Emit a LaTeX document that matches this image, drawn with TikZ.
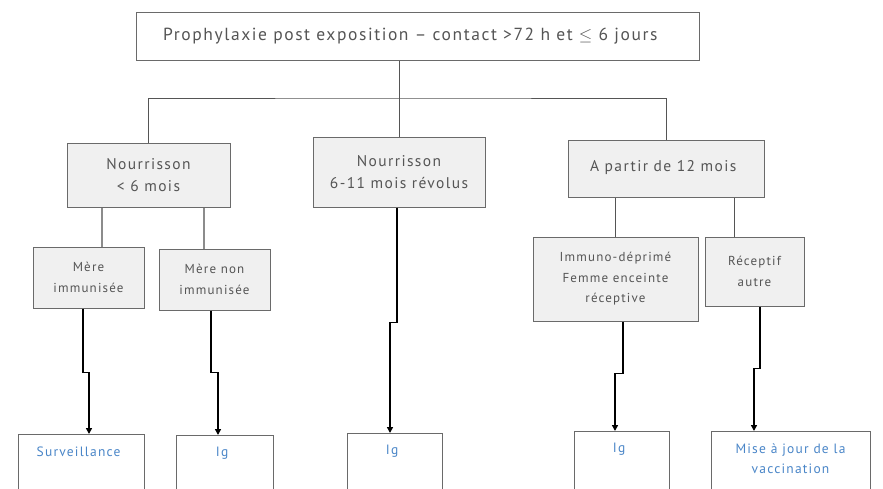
\documentclass[tikz,border=0pt]{standalone}
\usepackage{fontspec}
\setmainfont{PT Sans}[LetterSpace=9]
\usetikzlibrary{arrows.meta}

\definecolor{boxline}{HTML}{6A6A6A}
\definecolor{boxfill}{HTML}{F0F0F0}
\definecolor{txtgray}{HTML}{555555}
\definecolor{outblue}{HTML}{4A86C8}

\begin{document}
\begin{tikzpicture}[x=1pt,y=-1pt,
        every node/.style={font=\fontsize{15.5}{22}\selectfont, text=txtgray, align=center},
        topbox/.style={draw=boxline, line width=1pt, fill=white, minimum width=563pt, minimum height=48pt},
        agebox/.style={draw=boxline, line width=1pt, fill=boxfill, inner sep=0pt},
        casebox/.style={draw=boxline, line width=1pt, fill=boxfill, inner sep=0pt, font=\fontsize{13}{20.5}\selectfont},
        outbox/.style={draw=boxline, line width=0.8pt, fill=white, anchor=north, inner xsep=0pt, inner ysep=12pt,
            text depth=60pt, text=outblue, font=\fontsize{13.5}{20}\selectfont},
        tree/.style={draw=txtgray, line width=0.9pt},
        twig/.style={draw=black!45, line width=1.6pt},
        arr/.style={draw=black, line width=1.5pt, -{Triangle[length=6pt,width=6pt]}}]
        \useasboundingbox (0,0) rectangle (883,488);
        \clip (0,0) rectangle (883,488);

        % premier niveau
        \node[topbox] (top) at (417.5, 36) { \hspace{-8pt}\fontsize{17.5}{20}\selectfont Prophylaxie post exposition -- contact >72~h et $\leq$ 6 jours };
        \node[agebox, minimum width=163pt, minimum height=64pt] (n6) at (148.5, 175) { Nourrisson\\ < 6 mois };
        \node[agebox, minimum width=172pt, minimum height=70pt] (n611) at (399, 172) { Nourrisson\\ 6-11 mois révolus };
        \node[agebox, minimum width=196pt, minimum height=57pt] (n12) at (666, 168.5) { \raisebox{6pt}{A partir de 12 mois} };

        \coordinate (split) at (399, 98);
        \draw[tree] (top.south -| split) -- (n611.north);
        \draw[tree] (n6.north) |- (split) -| (n12.north);

        % second niveau
        \node[casebox, minimum width=111pt, minimum height=61pt] (mimm) at (88.5, 277.5) { Mère\\ immunisée };
        \node[casebox, minimum width=111pt, minimum height=61pt] (mnon) at (214.5, 279.5) { Mère non\\ immunisée };
        \node[casebox, minimum width=165pt, minimum height=84pt] (immu) at (615.5, 279) { Immuno-déprimé\\ Femme enceinte\\ réceptive };
        \node[casebox, minimum width=99pt, minimum height=69pt] (rec) at (754.5, 271.5) { Réceptif\\ autre };

        \draw[twig] ([xshift=13.5pt]mimm.north) -- ([xshift=13.5pt]mimm.north |- n6.south);
        \draw[twig] ([xshift=-10.5pt]mnon.north) -- ([xshift=-10.5pt]mnon.north |- n6.south);
        \draw[tree] (immu.north) -- (immu.north |- n12.south);
        \draw[tree] ([xshift=-20.5pt]rec.north) -- ([xshift=-20.5pt]rec.north |- n12.south);

        % conduite a tenir
        \node[outbox, minimum width=126pt] (surv) at (81, 434) { Surveillance };
        \node[outbox, minimum width=97pt] (ig1) at (224.5, 435) { Ig };
        \node[outbox, minimum width=95pt] (ig2) at (394.5, 433) { Ig };
        \node[outbox, minimum width=95pt] (ig3) at (621.5, 431) { Ig };
        \node[outbox, minimum width=159pt] (mise) at (790.5, 431) { Mise à jour de la\\ vaccination };

        \draw[arr] ([xshift=-5.5pt]mimm.south) -- ++(0, 64) -| ([xshift=8pt]surv.north);
        \draw[arr] ([xshift=-3.5pt]mnon.south) -- ++(0, 62) -| ([xshift=-6.5pt]ig1.north);
        \draw[arr] ([xshift=-2pt]n611.south) -- ++(0, 115) -| ([xshift=-4.5pt]ig2.north);
        \draw[arr] ([xshift=7.5pt]immu.south) -- ++(0, 52) -| ([xshift=-6.5pt]ig3.north);
        \draw[arr] ([xshift=5.5pt]rec.south) -- ++(0, 62) -| ([xshift=-36.5pt]mise.north);

    \end{tikzpicture}
\end{document}
